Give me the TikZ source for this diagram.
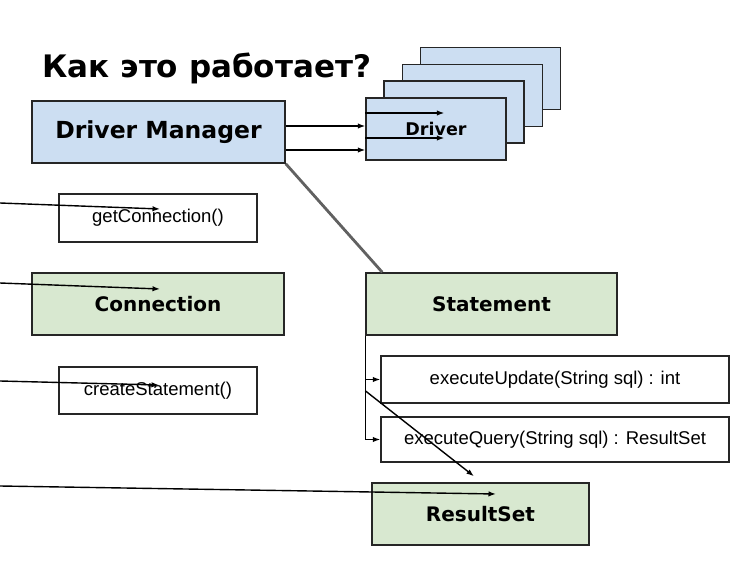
\documentclass[tikz,border=0pt]{standalone}
\usepackage{fontspec}
\setmainfont{Liberation Sans}
\newfontfamily\verdana{DejaVu Sans}
\usetikzlibrary{arrows.meta,calc}
\definecolor{mgrblue}{RGB}{204,222,242}
\definecolor{objgreen}{RGB}{216,232,208}

\begin{document}
\begin{tikzpicture}[
  x=1pt, y=-1pt,
  box/.style={draw=black!85, line width=1.5pt, inner sep=0pt, align=center},
  cls/.style={box, fill=objgreen, minimum height=62pt, font=\verdana\bfseries\fontsize{20}{24}\selectfont},
  mgr/.style={box, fill=mgrblue, minimum height=62pt},
  mth/.style={box, fill=white, minimum height=47pt, font=\fontsize{18.5}{22}\selectfont},
  arr/.style={-{Latex[length=7.5pt,width=5.5pt]}, line width=1.4pt},
  link/.style={draw=black!62, line width=2.8pt}
]
\useasboundingbox[fill=white] (0,0) rectangle (750,562);

\node[anchor=base west, font=\verdana\bfseries\fontsize{31}{37}\selectfont] (title) at (39,77) {Как это работает?};

\node[mgr, minimum width=253pt, font=\verdana\bfseries\fontsize{23.5}{28}\selectfont] (dm) at (158.5,132) {Driver Manager};
\foreach \i in {3,2,1}
  \node[mgr, minimum width=140pt] (drv\i) at ({436+18.2*\i},{129-16.8*\i}) {};
\node[mgr, minimum width=140pt, font=\verdana\bfseries\fontsize{17.5}{21}\selectfont] (drv0) at (436,129) {Driver};

\node[mth, minimum width=198pt, minimum height=48pt] (getconn) at (158,218) {getConnection()};
\node[cls, minimum width=252pt] (conn) at (158,304) {Connection};
\node[mth, minimum width=198pt] (createst) at (158,390.5) {createStatement()};

\node[cls, minimum width=251pt] (stmt) at (491.5,304) {Statement};
\node[mth, minimum width=348pt] (execupd) at (555,379.5) {executeUpdate(String sql) : int};
\node[mth, minimum width=348pt, minimum height=45pt] (execqry) at (555,439.5) {executeQuery(String sql) : ResultSet};
\node[cls, minimum width=217pt] (rs) at (480.5,514) {ResultSet};

% manager to drivers
\draw[arr] ([yshift=6pt]dm.east) -- ([yshift=6pt]dm.east -| drv0.west);
\draw[arr] ([yshift=-18pt]dm.east) -- ([yshift=-18pt]dm.east -| drv0.west);
\draw[arr] ([yshift=16pt]drv0.west) -- ([xshift=79pt,yshift=16pt]drv0.west);
\draw[arr] ([yshift=-9pt]drv0.west) -- ([xshift=79pt,yshift=-9pt]drv0.west);
\draw[link] (dm.south east) -- ([xshift=17pt]stmt.north west);

% calls coming in from the left
\coordinate (in1) at (0,203);
\coordinate (in2) at (0,283);
\coordinate (in3) at (0,381);
\coordinate (in4) at (0,486);
\draw[arr] (in1) -- ([xshift=2pt,yshift=9pt]getconn.center);
\draw[arr] (in2) -- ([xshift=2pt,yshift=15pt]conn.center);
\draw[arr] (in3) -- ([xshift=1pt,yshift=5.5pt]createst.center);
\draw[arr] (in4) -- ([xshift=15.5pt,yshift=20pt]rs.center);

% statement methods
\draw[arr] (stmt.south west) |- (execqry.west);
\draw[arr] (stmt.south west |- execupd.west) -- (execupd.west);
\draw[arr] ([yshift=-55pt]stmt.south west) -- ([xshift=-6.5pt,yshift=6pt]rs.north);
\end{tikzpicture}
\end{document}
